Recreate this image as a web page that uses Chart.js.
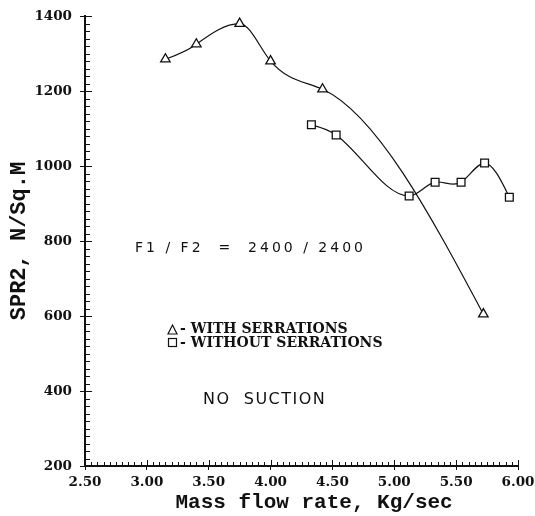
<!DOCTYPE html>
<html>
<head>
<meta charset="utf-8">
<script src="https://cdn.jsdelivr.net/npm/chart.js@4.4.1/dist/chart.umd.min.js"></script>
<style>
    body { margin: 0; background: #fff; }
    #wrap { width: 535px; height: 516px; position: relative; }
</style>
</head>
<body>
<div id="wrap"><canvas id="chart"></canvas></div>
<script>
// ----------------------
// Data
// ----------------------
const withX = [3.15, 3.40, 3.75, 4.00, 4.42, 5.72];
const withY = [1285, 1325, 1380, 1280, 1205, 605];

const withoutX = [4.33, 4.53, 5.12, 5.33, 5.54, 5.73, 5.93];
const withoutY = [1110, 1083, 920, 957, 957, 1008, 917];

const xTickValues = [2.5, 3.0, 3.5, 4.0, 4.5, 5.0, 5.5, 6.0];
const yTickValues = [200, 400, 600, 800, 1000, 1200, 1400];

const seriesNames = ["WITH SERRATIONS", "WITHOUT SERRATIONS"];
const noteRatio = "F1 / F2  =  2400 / 2400";
const noteSuction = "NO  SUCTION";

const INK = "#111";

function toPoints(xs, ys) {
    return xs.map((x, i) => ({ x: x, y: ys[i] }));
}

// ----------------------
// Natural cubic spline slopes (flat at local peaks / dips)
// ----------------------
function splineSlopes(xs, ys) {
    const n = xs.length;
    const h = [], s = [];
    for (let i = 0; i < n - 1; i++) {
        h.push(xs[i + 1] - xs[i]);
        s.push((ys[i + 1] - ys[i]) / h[i]);
    }
    const M = new Array(n).fill(0);
    if (n > 2) {
        const a = [], b = [], c = [], d = [];
        for (let i = 1; i < n - 1; i++) {
            a.push(h[i - 1]);
            b.push(2 * (h[i - 1] + h[i]));
            c.push(h[i]);
            d.push(6 * (s[i] - s[i - 1]));
        }
        const m = b.length;
        for (let i = 1; i < m; i++) {
            const w = a[i] / b[i - 1];
            b[i] -= w * c[i - 1];
            d[i] -= w * d[i - 1];
        }
        const sol = new Array(m);
        sol[m - 1] = d[m - 1] / b[m - 1];
        for (let i = m - 2; i >= 0; i--) sol[i] = (d[i] - c[i] * sol[i + 1]) / b[i];
        for (let i = 0; i < m; i++) M[i + 1] = sol[i];
    }
    const slopes = [];
    for (let i = 0; i < n - 1; i++) slopes.push(s[i] - h[i] * (2 * M[i] + M[i + 1]) / 6);
    slopes.push(s[n - 2] + h[n - 2] * (M[n - 2] + 2 * M[n - 1]) / 6);
    for (let i = 1; i < n - 1; i++) {
        if (s[i - 1] * s[i] < 0) slopes[i] = 0;
    }
    return slopes;
}

const splinePlugin = {
    id: "spline",
    beforeDatasetsDraw(chart) {
        chart.data.datasets.forEach((ds, k) => {
            const meta = chart.getDatasetMeta(k);
            const pts = meta.data;
            const xs = pts.map(p => p.x);
            const ys = pts.map(p => p.y);
            const m = splineSlopes(xs, ys);
            pts.forEach((p, i) => {
                const dPrev = i > 0 ? (xs[i] - xs[i - 1]) / 3 : 0;
                const dNext = i < pts.length - 1 ? (xs[i + 1] - xs[i]) / 3 : 0;
                p.cp1x = xs[i] - dPrev;
                p.cp1y = ys[i] - m[i] * dPrev;
                p.cp2x = xs[i] + dNext;
                p.cp2y = ys[i] + m[i] * dNext;
            });
            meta.dataset._pointsUpdated = true;
        });
    }
};

// ----------------------
// Minor ticks, legend and notes drawn on top
// ----------------------
const extrasPlugin = {
    id: "extras",
    afterDraw(chart) {
        const ctx = chart.ctx;
        const xs = chart.scales.x;
        const ys = chart.scales.y;
        const area = chart.chartArea;

        ctx.save();
        ctx.strokeStyle = INK;
        ctx.lineWidth = 1;

        // minor ticks on x (every 0.05), pointing up into the plot
        for (let i = 0; i <= 70; i++) {
            const px = Math.round(xs.getPixelForValue(2.5 + i * 0.05)) + 0.5;
            const len = i % 10 === 0 ? 6 : 4;
            ctx.beginPath();
            ctx.moveTo(px, area.bottom);
            ctx.lineTo(px, area.bottom - len);
            ctx.stroke();
        }
        // minor ticks on y (every 20), pointing right into the plot
        for (let i = 0; i <= 60; i++) {
            const py = Math.round(ys.getPixelForValue(200 + i * 20)) + 0.5;
            const len = i % 10 === 0 ? 7 : 5;
            ctx.beginPath();
            ctx.moveTo(area.left, py);
            ctx.lineTo(area.left + len, py);
            ctx.stroke();
        }

        ctx.fillStyle = INK;
        ctx.textBaseline = "middle";
        ctx.textAlign = "left";

        // ratio note
        ctx.font = "14px 'DejaVu Sans'";
        ctx.letterSpacing = "3px";
        ctx.fillText(noteRatio, 135, 248);

        // suction note
        ctx.font = "16px 'DejaVu Sans'";
        ctx.letterSpacing = "1.5px";
        ctx.fillText(noteSuction, 203, 400);

        // legend
        ctx.letterSpacing = "0px";
        ctx.lineWidth = 1.2;
        ctx.beginPath();
        ctx.moveTo(172.5, 325);
        ctx.lineTo(177, 334);
        ctx.lineTo(168, 334);
        ctx.closePath();
        ctx.stroke();
        ctx.strokeRect(168.5, 338.5, 8, 8);

        ctx.font = "bold 14px 'DejaVu Serif'";
        ctx.fillText("- " + seriesNames[0], 180, 329);
        ctx.fillText("- " + seriesNames[1], 180, 343);

        ctx.restore();
    }
};

// ----------------------
// Chart
// ----------------------
const lineStyle = {
    borderColor: INK,
    borderWidth: 1.2,
    pointBackgroundColor: "#fff",
    pointBorderColor: INK,
    pointBorderWidth: 1.3,
    tension: 0.4,
    fill: false
};

new Chart(document.getElementById("chart").getContext("2d"), {
    type: "line",
    data: {
        datasets: [
            Object.assign({
                label: seriesNames[0],
                data: toPoints(withX, withY),
                pointStyle: "triangle",
                pointRadius: 5.5
            }, lineStyle),
            Object.assign({
                label: seriesNames[1],
                data: toPoints(withoutX, withoutY),
                pointStyle: "rect",
                pointRadius: 5.5
            }, lineStyle)
        ]
    },
    options: {
        responsive: true,
        maintainAspectRatio: false,
        animation: false,
        layout: { padding: { left: 0, top: 16, right: 17, bottom: 0 } },
        plugins: {
            legend: { display: false },
            tooltip: { enabled: false }
        },
        scales: {
            x: {
                type: "linear",
                min: 2.5,
                max: 6.0,
                afterBuildTicks: (scale) => {
                    scale.ticks = xTickValues.map(v => ({ value: v }));
                },
                afterFit: (scale) => {
                    scale.height = 50;
                    scale.paddingRight = 0;
                },
                ticks: {
                    color: INK,
                    padding: 4,
                    maxRotation: 0,
                    font: { family: "'DejaVu Serif'", size: 13.5, weight: "bold" },
                    callback: (v) => Number(v).toFixed(2)
                },
                grid: {
                    drawOnChartArea: false,
                    drawTicks: true,
                    tickLength: 4,
                    color: INK
                },
                border: { display: true, color: INK, width: 2 },
                title: {
                    display: true,
                    text: "  Mass flow rate, Kg/sec",
                    color: INK,
                    font: { family: "'Liberation Mono'", size: 21, weight: "bold" },
                    padding: { top: 0, bottom: 1 }
                }
            },
            y: {
                min: 200,
                max: 1400,
                afterBuildTicks: (scale) => {
                    scale.ticks = yTickValues.map(v => ({ value: v }));
                },
                afterFit: (scale) => {
                    scale.width = 85;
                },
                ticks: {
                    color: INK,
                    padding: 8,
                    font: { family: "'DejaVu Serif'", size: 13.5, weight: "bold" },
                    callback: (v) => String(v)
                },
                grid: {
                    drawOnChartArea: false,
                    drawTicks: true,
                    tickLength: 5,
                    color: INK
                },
                border: { display: true, color: INK, width: 2 },
                title: {
                    display: true,
                    text: "SPR2, N/Sq.M",
                    color: INK,
                    font: { family: "'Liberation Mono'", size: 22, weight: "bold" },
                    padding: { top: 6, bottom: 0 }
                }
            }
        }
    },
    plugins: [splinePlugin, extrasPlugin]
});
</script>
</body>
</html>
